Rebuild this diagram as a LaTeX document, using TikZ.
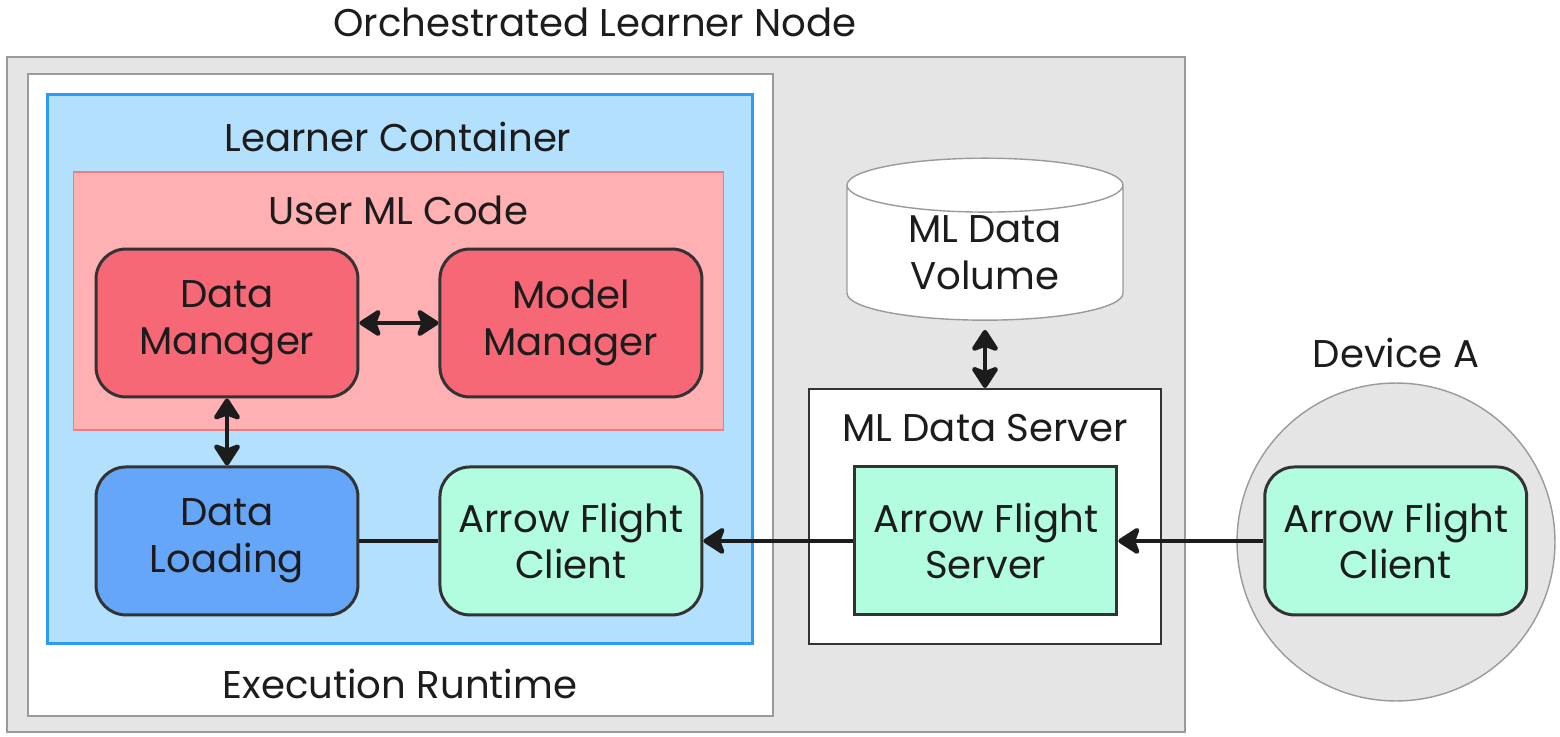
\documentclass[tikz,border=0pt]{standalone}
\usepackage{fontspec}
\setmainfont{Poppins}
\usepackage{xcolor}
\usetikzlibrary{positioning,shapes.geometric,arrows.meta}

\definecolor{nodegray}{HTML}{E5E5E5}
\definecolor{framegray}{HTML}{9A9A9A}
\definecolor{darkline}{HTML}{333333}
\definecolor{textblack}{HTML}{1C1C1C}
\definecolor{learnerblue}{HTML}{B3E0FD}
\definecolor{learnerline}{HTML}{2E9BF0}
\definecolor{userpink}{HTML}{FFB0B2}
\definecolor{userline}{HTML}{EE7C80}
\definecolor{managerred}{HTML}{F76876}
\definecolor{loadingblue}{HTML}{66A6F8}
\definecolor{flightmint}{HTML}{B2FDE0}

\begin{document}
\begin{tikzpicture}[
  x=0.02cm, y=0.02cm,
  node distance=1.34cm and 1.58cm,
  font=\fontsize{22}{26.7}\selectfont,
  text=textblack,
  frame/.style={draw=framegray, line width=1.2pt, inner sep=0pt},
  block/.style={draw=darkline, line width=1.7pt, rounded corners=0.6cm,
    minimum width=5.24cm, minimum height=2.96cm, align=center, inner sep=0pt},
  link/.style={line width=2.6pt, draw=textblack},
  tipend/.style={-{Stealth[length=0.5cm,width=0.64cm,inset=0.12cm,round]}},
  tipboth/.style={{Stealth[length=0.5cm,width=0.64cm,inset=0.12cm,round]}-{Stealth[length=0.5cm,width=0.64cm,inset=0.12cm,round]}}
    ]

\useasboundingbox (0,0) rectangle (1560,-737);

% containers
\node[frame, fill=nodegray, minimum width=23.56cm, minimum height=13.5cm] (orch) at (596,-394.5) {};
\node (orchlabel) at (595,-22) {Orchestrated Learner Node};
\node[frame, fill=white, minimum width=14.9cm, minimum height=12.84cm] (exec) at (400.5,-395) {};
\node (execlabel) at (400,-684) {Execution Runtime};
\node[draw=learnerline, line width=1.7pt, fill=learnerblue, minimum width=14.12cm, minimum height=11cm] (learner) at (400,-369) {};
\node (learnerlabel) at (398,-137) {Learner Container};
\node[draw=userline, line width=0.6pt, fill=userpink, minimum width=13.02cm, minimum height=5.16cm] (userml) at (398.5,-301) {};
\node (usermllabel) at (398,-210) {User ML Code};

% learner blocks
\node[block, fill=managerred] (dm) at (227,-323) {Data\\Manager};
\node[block, fill=managerred, right=of dm] (mm) {Model\\Manager};
\node[block, fill=loadingblue, below=of dm] (dl) {Data\\Loading};
\node[block, fill=flightmint, right=of dl] (afc) {Arrow Flight\\Client};

% data server side
\node[draw=darkline, line width=1.2pt, fill=white, minimum width=7.04cm, minimum height=5.1cm] (srv) at (985,-516.5) {};
\node (srvlabel) at (985,-428) {ML Data Server};
\node[block, rounded corners=0pt, fill=flightmint, right=3cm of afc] (afs) {Arrow Flight\\Server};
\node[cylinder, shape border rotate=90, draw=framegray, line width=0.8pt, fill=white, inner sep=0pt,
  aspect=0.35, minimum width=5.52cm, minimum height=3.24cm, align=center] (vol) at (985,-253) {ML Data\\Volume};

% device
\node[circle, draw=framegray, line width=0.8pt, fill=nodegray, minimum size=6.36cm] (dev) at (1396,-542) {};
\node (devlabel) at (1396,-353) {Device A};
\node[block, fill=flightmint, right=2.9cm of afs] (devc) {Arrow Flight\\Client};

% links
\draw[link, tipboth] (dm) -- (mm);
\draw[link, tipboth] (dm) -- (dl);
\draw[link] (dl) -- (afc);
\draw[link, tipend] (afs) -- (afc);
\draw[link, tipend] (devc) -- (afs);
\draw[link, tipboth, shorten <=0.18cm] (vol) -- (srv);

\end{tikzpicture}
\end{document}
